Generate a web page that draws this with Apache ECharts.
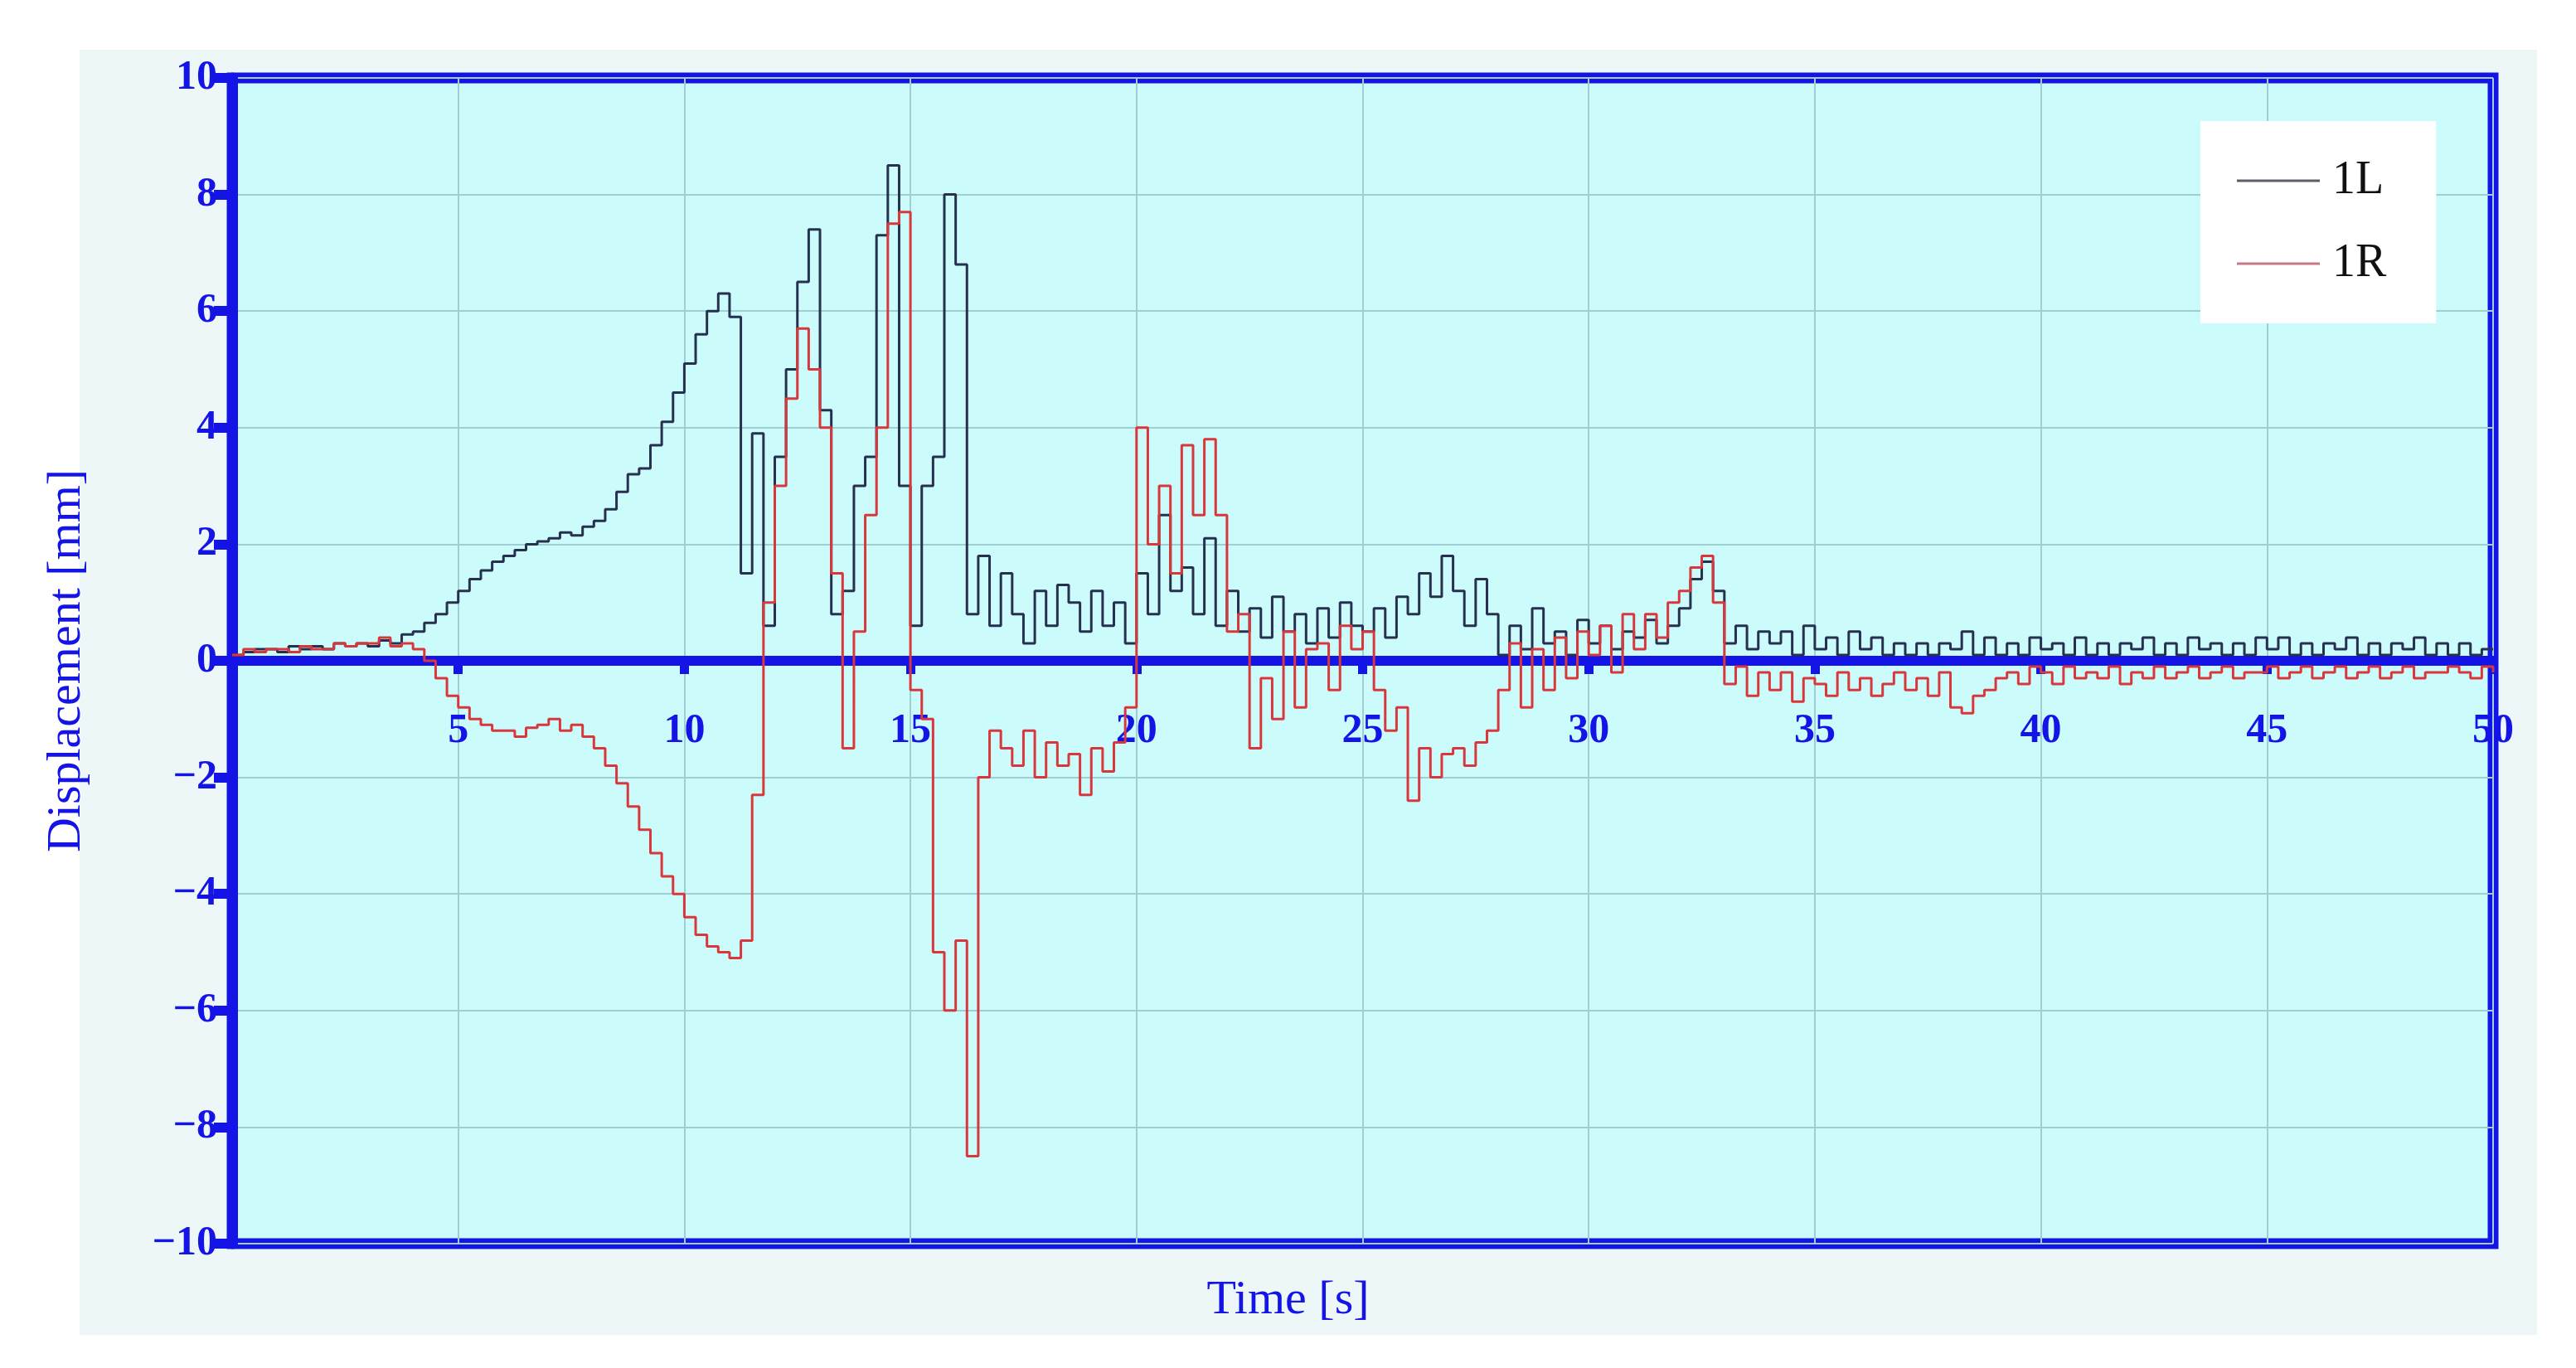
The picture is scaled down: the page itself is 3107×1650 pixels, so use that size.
<!DOCTYPE html>
<html lang="en">
<head>
<meta charset="UTF-8">
<title>Displacement</title>
<script src="https://cdn.jsdelivr.net/npm/echarts@6/dist/echarts.min.js"></script>
<style>html,body{margin:0;background:#fff;}</style>
</head>
<body>
<div id="main" style="width:3107px;height:1650px;"></div>
<script>
// sample interval of the recordings, seconds
var timeStep = 0.25;
// 1L, four samples per second (0 .. 50 s)
var series1L = [
  0.1,0.15,0.2,0.2, 0.15,0.25,0.2,0.25, 0.2,0.3,0.25,0.3, 0.25,0.35,0.3,0.45,
  0.5,0.65,0.8,1.0, 1.2,1.4,1.55,1.7, 1.8,1.9,2.0,2.05, 2.1,2.2,2.15,2.3,
  2.4,2.6,2.9,3.2, 3.3,3.7,4.1,4.6, 5.1,5.6,6.0,6.3, 5.9,1.5,3.9,0.6,
  3.5,5.0,6.5,7.4, 4.3,0.8,1.2,3.0, 3.5,7.3,8.5,3.0, 0.6,3.0,3.5,8.0,
  6.8,0.8,1.8,0.6, 1.5,0.8,0.3,1.2, 0.6,1.3,1.0,0.5, 1.2,0.6,1.0,0.3,
  1.5,0.8,2.5,1.2, 1.6,0.8,2.1,0.6, 1.2,0.5,0.9,0.4, 1.1,0.5,0.8,0.3,
  0.9,0.4,1.0,0.6, 0.5,0.9,0.4,1.1, 0.8,1.5,1.1,1.8, 1.2,0.6,1.4,0.8,
  0.1,0.6,0.2,0.9, 0.3,0.5,0.1,0.7, 0.3,0.6,0.2,0.5, 0.4,0.7,0.3,0.6,
  0.9,1.4,1.7,1.2, 0.3,0.6,0.2,0.5, 0.3,0.5,0.1,0.6, 0.2,0.4,0.1,0.5,
  0.2,0.4,0.1,0.3, 0.1,0.3,0.1,0.3, 0.2,0.5,0.1,0.4, 0.1,0.3,0.1,0.4,
  0.2,0.3,0.1,0.4, 0.1,0.3,0.1,0.3, 0.2,0.4,0.1,0.3, 0.1,0.4,0.2,0.3,
  0.1,0.3,0.1,0.4, 0.2,0.4,0.1,0.3, 0.1,0.3,0.2,0.4, 0.1,0.3,0.1,0.3,
  0.2,0.4,0.1,0.3, 0.1,0.3,0.1,0.2, 0.2
];
// 1R
var series1R = [
  0.1,0.2,0.15,0.2, 0.2,0.15,0.25,0.2, 0.2,0.3,0.25,0.3, 0.3,0.4,0.25,0.3,
  0.2,0.0,-0.3,-0.6, -0.8,-1.0,-1.1,-1.2, -1.2,-1.3,-1.15,-1.1, -1.0,-1.2,-1.1,-1.3,
  -1.5,-1.8,-2.1,-2.5, -2.9,-3.3,-3.7,-4.0, -4.4,-4.7,-4.9,-5.0, -5.1,-4.8,-2.3,1.0,
  3.0,4.5,5.7,5.0, 4.0,1.5,-1.5,0.5, 2.5,4.0,7.5,7.7, -0.5,-1.0,-5.0,-6.0,
  -4.8,-8.5,-2.0,-1.2, -1.5,-1.8,-1.2,-2.0, -1.4,-1.8,-1.6,-2.3, -1.5,-1.9,-1.4,-0.8,
  4.0,2.0,3.0,1.5, 3.7,2.5,3.8,2.5, 0.5,0.8,-1.5,-0.3, -1.0,0.5,-0.8,0.2,
  0.3,-0.5,0.6,0.2, 0.5,-0.5,-1.2,-0.8, -2.4,-1.5,-2.0,-1.6, -1.5,-1.8,-1.4,-1.2,
  -0.5,0.3,-0.8,0.2, -0.5,0.4,-0.3,0.5, 0.1,0.6,-0.2,0.8, 0.2,0.8,0.4,1.0,
  1.2,1.6,1.8,1.0, -0.4,-0.1,-0.6,-0.2, -0.5,-0.2,-0.7,-0.3, -0.4,-0.6,-0.2,-0.5,
  -0.3,-0.6,-0.4,-0.2, -0.5,-0.3,-0.6,-0.2, -0.8,-0.9,-0.6,-0.5, -0.3,-0.2,-0.4,-0.1,
  -0.2,-0.4,-0.1,-0.3, -0.2,-0.3,-0.1,-0.4, -0.2,-0.3,-0.1,-0.3, -0.2,-0.1,-0.3,-0.2,
  -0.1,-0.3,-0.2,-0.2, -0.1,-0.3,-0.2,-0.1, -0.3,-0.2,-0.1,-0.3, -0.2,-0.1,-0.3,-0.2,
  -0.1,-0.3,-0.2,-0.2, -0.1,-0.2,-0.3,-0.1, -0.2
];
var seriesNames = ['1L', '1R'];
var xTicks = [5, 10, 15, 20, 25, 30, 35, 40, 45, 50];

function pairs(arr) {
    return arr.map(function (v, i) { return [i * timeStep, v]; });
}

var blue = '#1414e6';
var serif = '"Liberation Serif", "DejaVu Serif", serif';
var gridTop = 94, gridBottom = 150, chartH = 1650;

var option = {
    animation: false,
    backgroundColor: '#ffffff',
    graphic: [{
        type: 'rect', z: -10,
        shape: {x: 96, y: 60, width: 2964, height: 1550},
        style: {fill: '#eef7f8'}
    }],
    title: {
        text: 'Time [s]',
        left: 'center', top: 1535,
        textStyle: {color: blue, fontFamily: serif, fontSize: 58, fontWeight: 'normal'}
    },
    legend: {
        data: seriesNames,
        orient: 'vertical',
        left: 2654, top: 146,
        padding: [44, 60, 44, 44],
        itemGap: 44,
        itemWidth: 100, itemHeight: 20,
        backgroundColor: '#ffffff',
        textStyle: {fontFamily: serif, fontSize: 56, color: '#111', padding: [0, 0, 0, 10]},
        icon: 'path://M0,8.5L100,8.5L100,11.5L0,11.5Z'
    },
    grid: {
        left: 280, right: 100, top: gridTop, bottom: gridBottom,
        show: true,
        backgroundColor: '#ccfbfb',
        borderColor: blue,
        borderWidth: 13
    },
    xAxis: {
        type: 'value',
        min: 0, max: 50, interval: 5,
        // lift the axis up to the zero line of the y axis
        offset: -(chartH - gridTop - gridBottom) / 2,
        axisLine: {onZero: false, lineStyle: {color: blue, width: 12}},
        axisTick: {show: true, length: 16, lineStyle: {color: blue, width: 11},
            customValues: xTicks},
        axisLabel: {
            margin: 60, color: blue, fontFamily: serif, fontSize: 50, fontWeight: 'bold',
            customValues: xTicks
        },
        splitLine: {show: true, lineStyle: {color: '#9fcfd3', width: 2}}
    },
    yAxis: {
        type: 'value',
        min: -10, max: 10, interval: 2,
        name: 'Displacement [mm]',
        nameLocation: 'middle',
        nameGap: 170,
        nameTextStyle: {color: blue, fontFamily: serif, fontSize: 58},
        axisLine: {show: true, lineStyle: {color: blue, width: 13}},
        axisTick: {show: true, length: 22, lineStyle: {color: blue, width: 12}},
        axisLabel: {
            margin: 18, color: blue, fontFamily: serif, fontSize: 50, fontWeight: 'bold',
            formatter: function (v) { return v < 0 ? '\u2212' + (-v) : String(v); }
        },
        splitLine: {show: true, lineStyle: {color: '#9fcfd3', width: 2}}
    },
    series: [
        {
            name: '1L', type: 'line', step: 'end', showSymbol: false,
            data: pairs(series1L),
            itemStyle: {color: '#5a5f6a'},
            lineStyle: {color: '#26304f', width: 3}
        },
        {
            name: '1R', type: 'line', step: 'end', showSymbol: false,
            data: pairs(series1R),
            itemStyle: {color: '#c77a85'},
            lineStyle: {color: '#d8383c', width: 3}
        }
    ]
};

var myChart = echarts.init(document.getElementById('main'));
myChart.setOption(option);
</script>
</body>
</html>
